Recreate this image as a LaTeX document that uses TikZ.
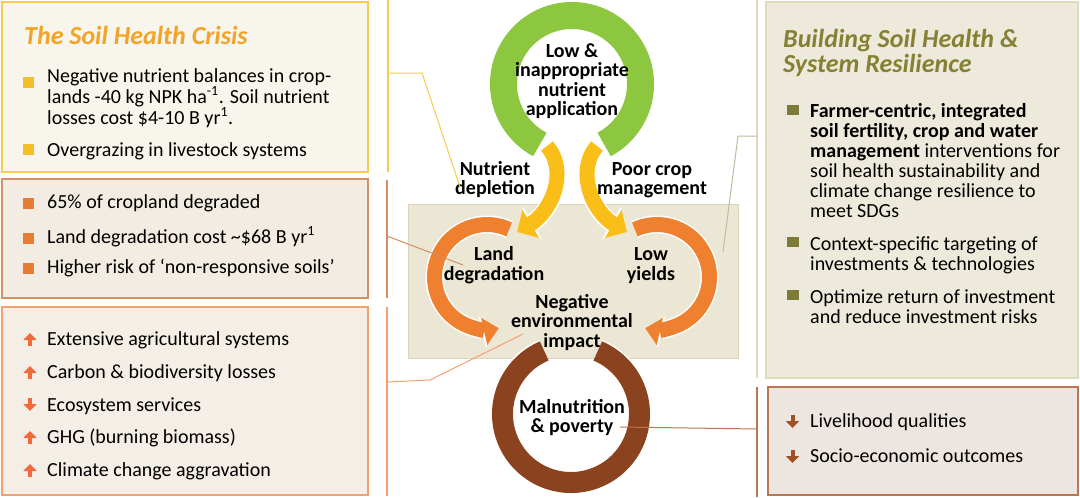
\documentclass[tikz,border=0pt]{standalone}
\usepackage{fontspec}
\setmainfont{Carlito}
\usetikzlibrary{arrows.meta}
\definecolor{ringgreen}{RGB}{141,198,63}
\definecolor{arryellow}{RGB}{250,190,25}
\definecolor{arcorange}{RGB}{238,128,48}
\definecolor{ringbrown}{RGB}{139,66,30}
\definecolor{ttlorange}{RGB}{242,163,40}
\definecolor{ttlolive}{RGB}{133,128,51}
\definecolor{fillA}{RGB}{248,246,236}
\definecolor{fillB}{RGB}{242,236,226}
\definecolor{fillC}{RGB}{245,238,230}
\definecolor{fillD}{RGB}{238,234,219}
\definecolor{fillE}{RGB}{237,230,224}
\definecolor{fillM}{RGB}{236,230,212}
\definecolor{edgeA}{RGB}{247,203,80}
\definecolor{edgeB}{RGB}{214,142,100}
\definecolor{edgeC}{RGB}{244,160,110}
\definecolor{edgeD}{RGB}{224,219,186}
\definecolor{edgeE}{RGB}{185,118,80}
\definecolor{edgeM}{RGB}{220,213,181}
\definecolor{bulA}{RGB}{248,190,40}
\definecolor{bulB}{RGB}{230,125,50}
\definecolor{bulC}{RGB}{242,105,60}
\definecolor{bulD}{RGB}{125,122,58}
\definecolor{bulE}{RGB}{160,80,35}
\begin{document}
\begin{tikzpicture}[x=1pt,y=1pt,
  body/.style={font=\fontsize{20}{19}\selectfont, anchor=base west, align=left, inner sep=0pt},
  rbody/.style={font=\fontsize{20}{20}\selectfont, anchor=base west, align=left, inner sep=0pt},
  ctext/.style={font=\bfseries\fontsize{20}{19.5}\selectfont, anchor=base, align=center, inner sep=0pt},
  ttl/.style={font=\bfseries\itshape\fontsize{26}{25}\selectfont, anchor=base west, align=left, inner sep=0pt},
  panel/.style={line width=2pt},
  sqr/.style={draw=none, inner sep=0pt, minimum width=11pt, minimum height=11pt},
  icon/.style={line width=4pt, -{Triangle[width=13pt,length=7pt]}},
  bracket/.style={line width=1.5pt},
  conn/.style={line width=1pt},
  halo/.style={preaction={draw=white, line width=#1}},
  yarrow/.style={line width=15pt, arryellow, -{Triangle[width=32pt,length=16pt]},
    preaction={draw=white, line width=18pt, -{Triangle[width=36pt,length=18pt]}}},
  oarrow/.style={line width=15pt, arcorange, -{Triangle[width=27pt,length=15pt]},
    preaction={draw=white, line width=18pt, -{Triangle[width=31pt,length=17pt]}}}
]
\useasboundingbox (0,0) rectangle (1080,-498);

% ---- side panels
\draw[panel, draw=edgeA, fill=fillA] (2,-2) rectangle (368,-172);
\draw[panel, draw=edgeB, fill=fillB] (2,-179) rectangle (368,-298);
\draw[panel, draw=edgeC, fill=fillC] (2,-307) rectangle (368,-495);
\draw[panel, draw=edgeD, fill=fillD] (766,-2) rectangle (1078,-378);
\draw[panel, draw=edgeE, fill=fillE] (768,-387) rectangle (1078,-495);

% ---- brackets
\draw[bracket, edgeA] (388,0) -- (388,-172);
\draw[bracket, edgeB] (387,-180) -- (387,-298);
\draw[bracket, edgeC] (387,-307) -- (387,-496);
\draw[bracket, edgeD] (757,0) -- (757,-378);
\draw[bracket, edgeE] (757,-387) -- (757,-497);

% ---- central panel
\draw[line width=1pt, draw=edgeM, fill=fillM] (408,-204) rectangle (738,-358);

% ---- rings and arcs
\draw[line width=27pt, ringgreen, halo=30pt] (572,-84) ++(-62:68.5) arc[start angle=-62, end angle=242, radius=68.5];
\draw[line width=21pt, ringbrown, halo=24pt] (571,-414) ++(113:68.5) arc[start angle=113, end angle=427, radius=68.5];
\draw[oarrow] (487,-277) ++(65:52.5) arc[start angle=65, end angle=283, radius=52.5];
\draw[oarrow] (657,-277) ++(115:52.5) arc[start angle=115, end angle=-103, radius=52.5];
\draw[yarrow] (547,-146) .. controls (569,-172) and (551,-212) .. (517,-232);
\draw[yarrow] (597,-146) .. controls (575,-172) and (593,-212) .. (627,-232);

% ---- centre texts (anchor = baseline of last line)
\node[ctext] (low) at (572,-115.5) {Low \&\\inappropriate\\nutrient\\application};
\node[ctext] (dep) at (495,-194.5) {Nutrient\\depletion};
\node[ctext] (poor) at (652,-194.5) {Poor crop\\management};
\node[ctext] (land) at (494,-280) {Land\\degradation};
\node[ctext] (yld) at (651,-280) {Low\\yields};
\node[ctext] (neg) at (572,-347) {Negative\\environmental\\impact};
\node[ctext] (mal) at (572,-432.5) {Malnutrition\\\& poverty};

% ---- left panel 1
\node[ttl, text=ttlorange] (t1) at (24,-44) {The Soil Health Crisis};
\node[sqr, fill=bulA] (s11) at (28,-82) {};
\node[body] (a1) at (47,-124) {Negative nutrient balances in crop-\\lands -40 kg NPK ha\textsuperscript{-1}. Soil nutrient\\losses cost \$4-10 B yr\textsuperscript{1}.};
\node[sqr, fill=bulA] (s12) at (28,-149) {};
\node[body] (a2) at (47,-156) {Overgrazing in livestock systems};

% ---- left panel 2
\node[sqr, fill=bulB] (s21) at (28,-203) {};
\node[body] (b1) at (47,-208) {65\% of cropland degraded};
\node[sqr, fill=bulB] (s22) at (28,-238) {};
\node[body] (b2) at (47,-243) {Land degradation cost \textasciitilde\$68 B yr\textsuperscript{1}};
\node[sqr, fill=bulB] (s23) at (28,-268) {};
\node[body] (b3) at (47,-273) {Higher risk of ‘non-responsive soils’};

% ---- left panel 3
\draw[icon, bulC] (30,-346) -- (30,-333);
\node[body] (c1) at (47,-345) {Extensive agricultural systems};
\draw[icon, bulC] (30,-379) -- (30,-366);
\node[body] (c2) at (47,-378) {Carbon \& biodiversity losses};
\draw[icon, bulC] (30,-398) -- (30,-411);
\node[body] (c3) at (47,-411) {Ecosystem services};
\draw[icon, bulC] (30,-444) -- (30,-431);
\node[body] (c4) at (47,-443) {GHG (burning biomass)};
\draw[icon, bulC] (30,-477) -- (30,-464);
\node[body] (c5) at (47,-476) {Climate change aggravation};

% ---- right panel 1
\node[ttl, text=ttlolive] (t2) at (783,-72) {Building Soil Health \&\\System Resilience};
\node[sqr, fill=bulD, minimum width=12pt, minimum height=10pt] (s31) at (793,-110) {};
\node[rbody] (d1) at (810,-217) {\textbf{Farmer-centric, integrated}\\\textbf{soil fertility, crop and water}\\\textbf{management} interventions for\\soil health sustainability and\\climate change resilience to\\meet SDGs};
\node[sqr, fill=bulD, minimum width=12pt, minimum height=10pt] (s32) at (793,-242) {};
\node[rbody] (d2) at (810,-270) {Context-specific targeting of\\investments \& technologies};
\node[sqr, fill=bulD, minimum width=12pt, minimum height=10pt] (s33) at (793,-295) {};
\node[rbody] (d3) at (810,-323) {Optimize return of investment\\and reduce investment risks};

% ---- right panel 2
\draw[icon, bulE] (792.5,-415) -- (792.5,-428);
\node[rbody] (e1) at (810,-427) {Livelihood qualities};
\draw[icon, bulE] (792.5,-450) -- (792.5,-463);
\node[rbody] (e2) at (810,-462) {Socio-economic outcomes};

% ---- connectors
\coordinate (y0) at (388,-73);
\coordinate (y1) at (422,-73);
\coordinate (y2) at (460,-187);
\draw[conn, edgeA] (y0) -- (y1) -- (y2);
\coordinate (br0) at (387,-236);
\coordinate (br1) at (463,-265);
\draw[conn, edgeB] (br0) -- (br1);
\coordinate (or0) at (387,-382);
\coordinate (or1) at (430,-380);
\coordinate (or2) at (523,-334);
\draw[conn, edgeC] (or0) -- (or1) -- (or2);
\coordinate (ol0) at (757,-136);
\coordinate (ol1) at (738,-136);
\coordinate (ol2) at (723,-252);
\draw[conn, edgeD!85!black] (ol0) -- (ol1) -- (ol2);
\coordinate (mp0) at (620,-427);
\coordinate (mp1) at (757,-429);
\draw[conn, edgeE] (mp0) -- (mp1);
\end{tikzpicture}
\end{document}
